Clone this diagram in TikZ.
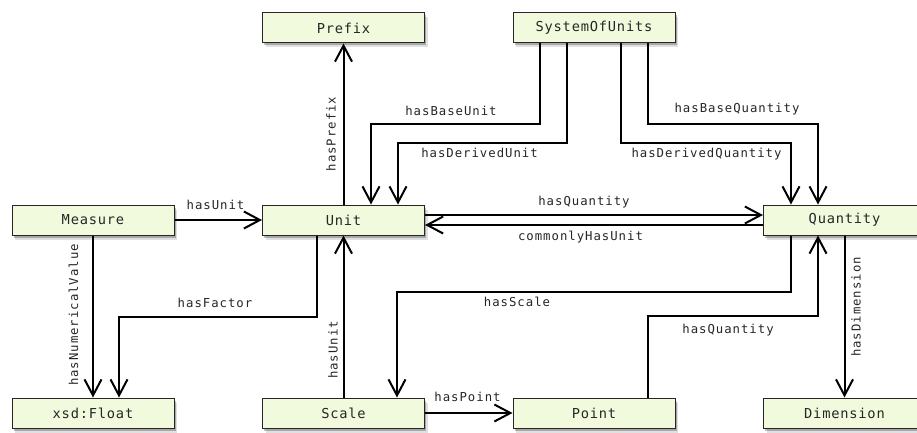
\documentclass[tikz,border=0pt]{standalone}
\usepackage{fontspec}
\newfontfamily\boxfont[LetterSpace=5.8]{DejaVu Sans Mono}
\newfontfamily\lblfont[LetterSpace=8]{DejaVu Sans Mono}
\usetikzlibrary{arrows.meta,shadows}
\definecolor{boxfill}{RGB}{242,250,222}
\tikzset{
  cls/.style={draw=black!85, line width=1pt, fill=boxfill, minimum width=162pt,
    minimum height=30pt, inner sep=0pt, text=black!85, font=\boxfont\fontsize{13.7}{16}\selectfont,
    general shadow={shadow xshift=3pt, shadow yshift=-4.5pt, fill=black, opacity=0.12},
    general shadow={shadow xshift=1.5pt, shadow yshift=-2.5pt, fill=black, opacity=0.25}},
  rel/.style={line width=2pt, -{Straight Barb[length=16pt,width=17pt]}},
  lbl/.style={font=\lblfont\fontsize{12.3}{14}\selectfont, inner sep=0pt, text=black!85},
}
\begin{document}
\begin{tikzpicture}[x=1pt,y=-1pt]
\useasboundingbox (0,0) rectangle (917,433);
% classes
\node[cls] (prefix)    at (343.5,28)  {Prefix};
\node[cls] (sou)       at (594,28)    {SystemOfUnits};
\node[cls] (measure)   at (93,220)    {Measure};
\node[cls] (unit)      at (343.5,220) {Unit};
\node[cls] (quantity)  at (844.5,220) {Quantity};
\node[cls] (float)     at (93,413)    {xsd:Float};
\node[cls] (scale)     at (343.5,413) {Scale};
\node[cls] (point)     at (594,413)   {Point};
\node[cls] (dimension) at (844.5,413) {Dimension};
% relations
\draw[rel] (measure) -- (unit);
\draw[rel] (measure) -- (float);
\draw[rel] ([xshift=-26.5pt]unit.south) -- ++(0,81) -| ([xshift=26pt]float.north);
\draw[rel] (scale) -- (unit);
\draw[rel] (unit) -- (prefix);
\draw[rel] ([xshift=-54pt]sou.south) -- ++(0,80) -| ([xshift=27.5pt]unit.north);
\draw[rel] ([xshift=-27pt]sou.south) -- ++(0,99) -| ([xshift=54.5pt]unit.north);
\draw[rel] ([xshift=27pt]sou.south) -- ++(0,99) -| ([xshift=-53.5pt]quantity.north);
\draw[rel] ([xshift=54pt]sou.south) -- ++(0,80) -| ([xshift=-26.5pt]quantity.north);
\draw[rel] ([yshift=5pt]unit.east) -- ([yshift=5pt]quantity.west);
\draw[rel] ([yshift=-5pt]quantity.west) -- ([yshift=-5pt]unit.east);
\draw[rel] ([xshift=-53.5pt]quantity.south) -- ++(0,56) -| ([xshift=53.5pt]scale.north);
\draw[rel] (scale) -- (point);
\draw[rel] ([xshift=54pt]point.north) -- ++(0,-82) -| ([xshift=-26.5pt]quantity.south);
\draw[rel] (quantity) -- (dimension);
% labels
\node[lbl, anchor=base] (l1) at (215.5,209) {hasUnit};
\node[lbl, rotate=90] (l2) at (73.5,315) {hasNumericalValue};
\node[lbl, anchor=base] (l3) at (215,307) {hasFactor};
\node[lbl, rotate=90] (l4) at (333,350) {hasUnit};
\node[lbl, rotate=90] (l5) at (331,134) {hasPrefix};
\node[lbl, anchor=base] (l6) at (451,115) {hasBaseUnit};
\node[lbl, anchor=base] (l7) at (479.5,157) {hasDerivedUnit};
\node[lbl, anchor=base] (l8) at (706.5,157) {hasDerivedQuantity};
\node[lbl, anchor=base] (l9) at (737,113) {hasBaseQuantity};
\node[lbl, anchor=base] (l10) at (584,205) {hasQuantity};
\node[lbl, anchor=base] (l11) at (580.5,240) {commonlyHasUnit};
\node[lbl, anchor=base] (l12) at (517,306.5) {hasScale};
\node[lbl, anchor=base] (l13) at (728,333) {hasQuantity};
\node[lbl, anchor=base] (l14) at (467.5,401) {hasPoint};
\node[lbl, rotate=90] (l15) at (856,307) {hasDimension};
\end{tikzpicture}
\end{document}
